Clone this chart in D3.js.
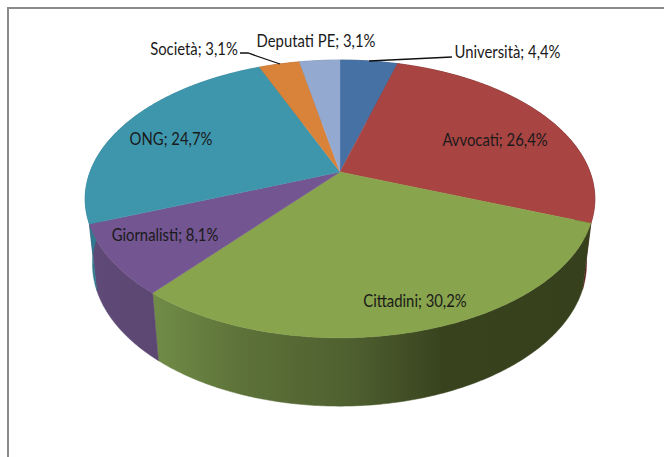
<!DOCTYPE html>
<html>
<head>
<meta charset="utf-8">
<script src="https://cdn.jsdelivr.net/npm/d3@7"></script>
<style>
  html, body { margin: 0; padding: 0; background: #fff; }
</style>
</head>
<body>
<div id="chart"></div>
<script>
const categories = ["Università", "Avvocati", "Cittadini", "Giornalisti", "ONG", "Società", "Deputati PE"];
const shares = [4.4, 26.4, 30.2, 8.1, 24.7, 3.1, 3.1];
const shareLabels = ["4,4%", "26,4%", "30,2%", "8,1%", "24,7%", "3,1%", "3,1%"];
const topColors = ["#4671a5", "#a84442", "#88a44c", "#735591", "#3e96ad", "#d8823a", "#93a9cf"];
const sideColors = ["#2f4b6e", "#5e1f1e", "#36401c", "#5f4a78", "#2f7a8e", "#a5622b", "#6f80a0"];

const width = 664;
const height = 457;

// label placement, pixel centre of each text
const labelPos = [[507.5, 54], [495, 142], [415, 303], [165, 237], [171, 141], [194, 51], [316, 43]];
const leaders = [
    [[452, 57], [369, 61]],
    null, null, null, null,
    [[240, 53], [248, 53], [280, 64]],
    null
];

const svg = d3.select("#chart")
    .append("svg")
    .attr("width", width)
    .attr("height", height)
    .style("display", "block")
    .style("font-family", "Lato, sans-serif");

svg.append("path")
    .attr("d", `M8,${height}V8H${width}`)
    .attr("fill", "none")
    .attr("stroke", "#8a8a8a")
    .attr("stroke-width", 2);

const pie = d3.pie().value(d => d).sort(null);
const slices = pie(shares);

// the disc is drawn in perspective: near edge is bigger than far edge
function projector(k, xScale, yScale) {
    return angle => {
        const u = Math.sin(angle);
        const v = -Math.cos(angle);
        const w = 1 - k * v;
        return [xScale(u / w), yScale(v / w)];
    };
}

const topX = d3.scaleLinear().domain([-1, 1]).range([90, 590]);
const topY = d3.scaleLinear().domain([-1, 1]).range([38.3, 305.7]);
const topProject = projector(0.194, topX, topY);
const bottomProject = projector(0.19,
    d3.scaleLinear().domain([-1, 1]).range([97, 582]),
    d3.scaleLinear().domain([-1, 1]).range([100, 374]));

const apex = [topX(0), topY(0)];
const line = d3.line();

function arcAngles(a0, a1, step = 0.01) {
    const n = Math.max(2, Math.ceil((a1 - a0) / step));
    return d3.range(n + 1).map(i => a0 + (a1 - a0) * i / n);
}

const defs = svg.append("defs");
const greenGrad = defs.append("linearGradient")
    .attr("id", "greenSide")
    .attr("gradientUnits", "userSpaceOnUse")
    .attr("x1", 153).attr("x2", 592).attr("y1", 0).attr("y2", 0);
[[0, "#718c47"], [0.2, "#5d7239"], [0.45, "#4f6030"], [0.66, "#38431e"], [1, "#36401c"]]
    .forEach(s => greenGrad.append("stop").attr("offset", s[0]).attr("stop-color", s[1]));

const purpleGrad = defs.append("linearGradient")
    .attr("id", "purpleSide")
    .attr("gradientUnits", "userSpaceOnUse")
    .attr("x1", 90).attr("x2", 158).attr("y1", 0).attr("y2", 0);
[[0, "#5f4a78"], [1, "#5c4772"]]
    .forEach(s => purpleGrad.append("stop").attr("offset", s[0]).attr("stop-color", s[1]));

const sideFill = (d, i) => i === 2 ? "url(#greenSide)" : i === 3 ? "url(#purpleSide)" : sideColors[i];

// outer wall first, then the top of the disc over it
svg.append("g").selectAll("path")
    .data(slices)
    .enter()
    .append("path")
    .attr("d", d => {
        const angles = arcAngles(d.startAngle, d.endAngle);
        const pts = angles.map(topProject).concat(angles.slice().reverse().map(bottomProject));
        return line(pts) + "Z";
    })
    .attr("fill", sideFill)
    .attr("stroke", sideFill)
    .attr("stroke-width", 0.5);

svg.append("g").selectAll("path")
    .data(slices)
    .enter()
    .append("path")
    .attr("d", d => line([apex].concat(arcAngles(d.startAngle, d.endAngle).map(topProject))) + "Z")
    .attr("fill", (d, i) => topColors[i])
    .attr("stroke", (d, i) => topColors[i])
    .attr("stroke-width", 0.4);

svg.append("g").selectAll("path")
    .data(leaders.filter(d => d))
    .enter()
    .append("path")
    .attr("d", d => line(d))
    .attr("fill", "none")
    .attr("stroke", "#111")
    .attr("stroke-width", 1.3);

// Calibri is not available, Lato squeezed a little comes closest
svg.append("g").selectAll("text")
    .data(categories)
    .enter()
    .append("text")
    .attr("transform", (d, i) => `translate(${labelPos[i][0]},${labelPos[i][1]}) scale(0.9,1)`)
    .attr("text-anchor", "middle")
    .attr("dominant-baseline", "middle")
    .style("font-size", "16.5px")
    .style("fill", "#1a1a1a")
    .text((d, i) => `${d}; ${shareLabels[i]}`);
</script>
</body>
</html>
